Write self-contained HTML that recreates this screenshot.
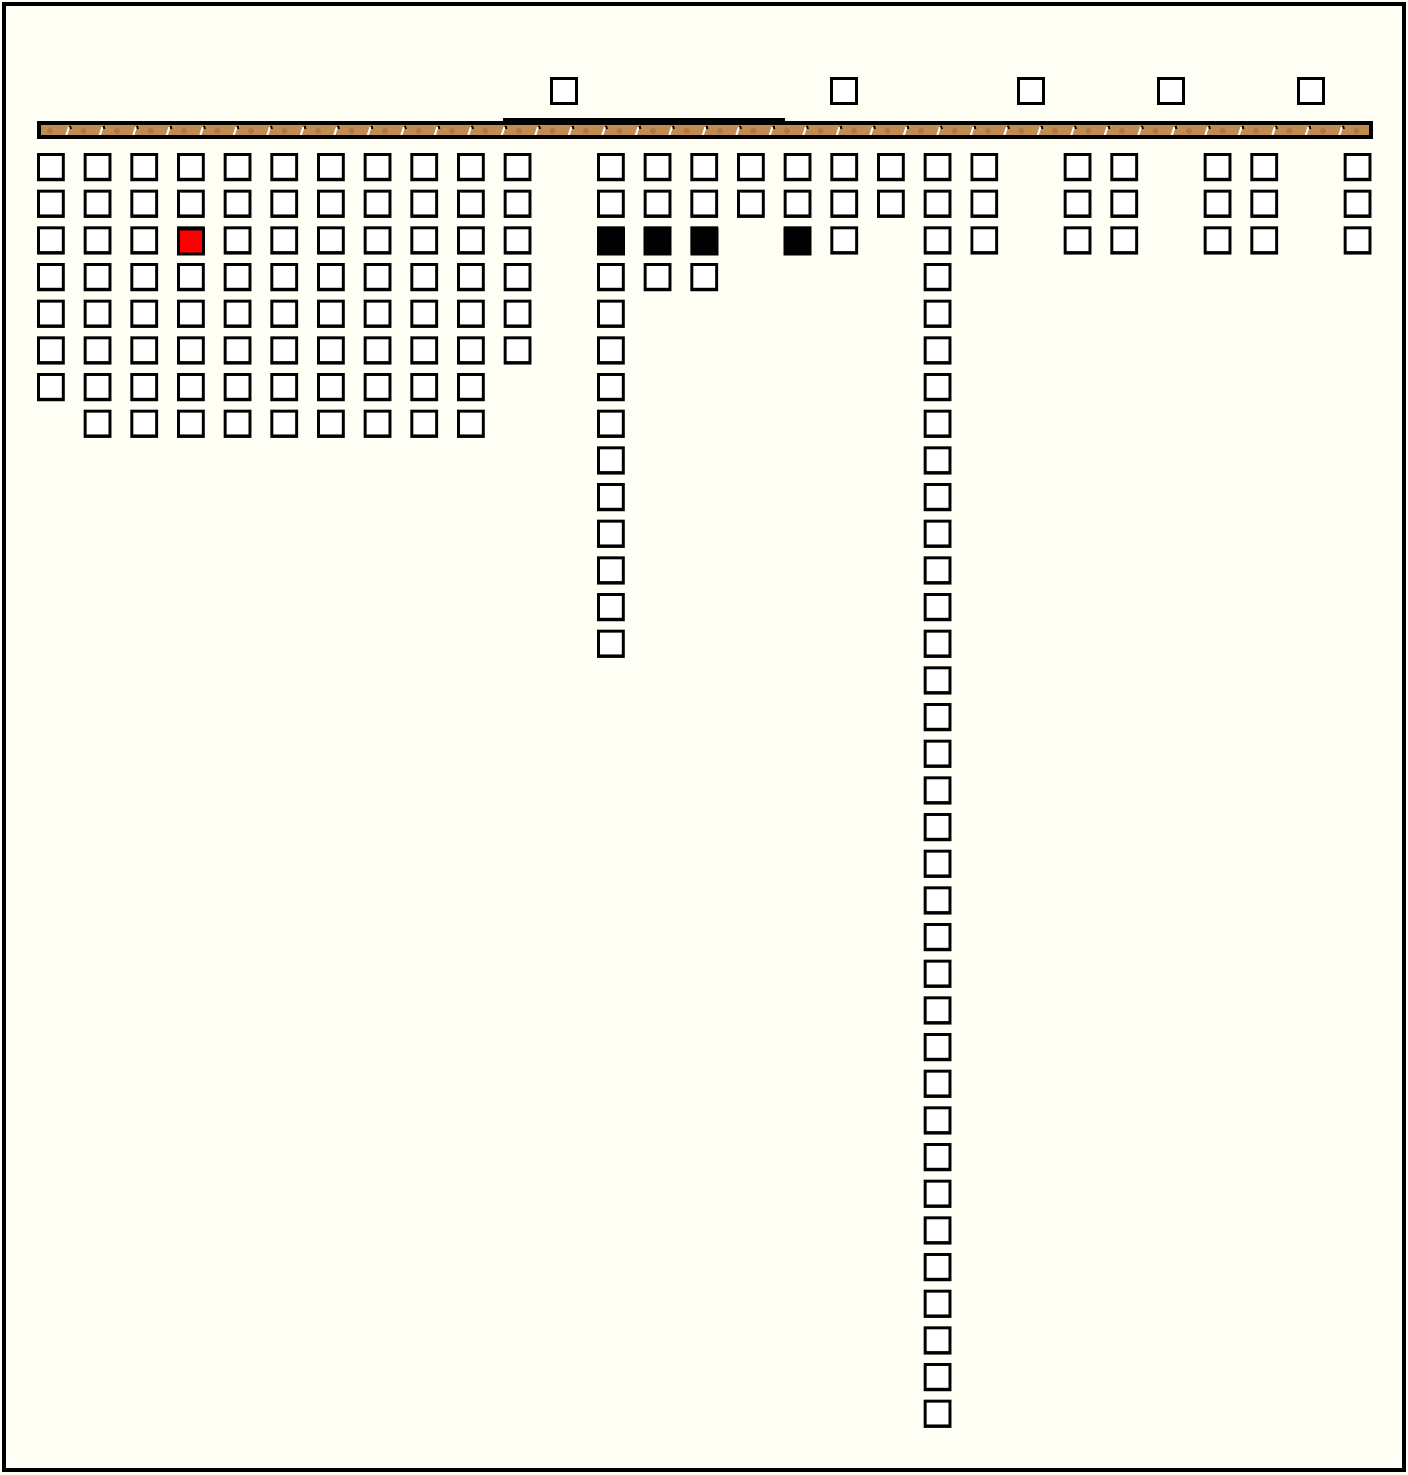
<!DOCTYPE html>
<html><head><meta charset="utf-8"><style>html,body{margin:0;padding:0;background:#fffff5}svg{display:block}</style></head>
<body>
<svg width="1408" height="1475" viewBox="0 0 1408 1475" xmlns="http://www.w3.org/2000/svg" shape-rendering="crispEdges">
<defs>
<pattern id="g" patternUnits="userSpaceOnUse" x="37" y="153" width="46.6667" height="36.6667">
<rect x="0" y="0" width="46.6667" height="36.6667" fill="#fffff5"/>
<rect x="1.5" y="1.5" width="25" height="25" fill="#fff" stroke="#000" stroke-width="3"/>
</pattern>
<pattern id="bar" patternUnits="userSpaceOnUse" x="40" y="124" width="33.5" height="12">
<rect width="33.5" height="12" fill="#c08c50"/>
<circle cx="10" cy="7" r="3" fill="#a86a3c" opacity="0.6"/>
<path d="M29 3 L26 12" stroke="#fff" stroke-width="2"/>
<path d="M30 2 L31 5" stroke="#000" stroke-width="2"/>
</pattern>
</defs>
<rect x="0" y="0" width="1408" height="1475" fill="#fffff5"/>
<rect x="4" y="4" width="1400" height="1466" fill="none" stroke="#000" stroke-width="4"/>
<rect x="37" y="121" width="1336" height="18" fill="#000"/>
<rect x="503" y="118" width="282" height="5" fill="#000"/>
<rect x="41" y="125" width="1328" height="10" fill="url(#bar)"/>
<g fill="#fff" stroke="#000" stroke-width="3">
<rect x="551.5" y="78.5" width="25" height="25"/>
<rect x="831.5" y="78.5" width="25" height="25"/>
<rect x="1018.5" y="78.5" width="25" height="25"/>
<rect x="1158.5" y="78.5" width="25" height="25"/>
<rect x="1298.5" y="78.5" width="25" height="25"/>
</g>
<g fill="url(#g)">
<rect x="37" y="153" width="30" height="249"/>
<rect x="83.667" y="153" width="403.333" height="285"/>
<rect x="503.667" y="153" width="30" height="212"/>
<rect x="597" y="153" width="30" height="505"/>
<rect x="643.667" y="153" width="76.667" height="139"/>
<rect x="737" y="153" width="30" height="66"/>
<rect x="783.667" y="153" width="76.667" height="102"/>
<rect x="877" y="153" width="30" height="66"/>
<rect x="923.667" y="153" width="30" height="1276"/>
<rect x="970.333" y="153" width="30" height="102"/>
<rect x="1063.667" y="153" width="76.667" height="102"/>
<rect x="1203.667" y="153" width="76.667" height="102"/>
<rect x="1343.667" y="153" width="30" height="102"/>
</g>
<rect x="178.5" y="228.8" width="25" height="25" fill="#f00" stroke="#000" stroke-width="3"/>
<g fill="#000" stroke="#000" stroke-width="3">
<rect x="598.5" y="228.8" width="25" height="25"/>
<rect x="645.2" y="228.8" width="25" height="25"/>
<rect x="691.8" y="228.8" width="25" height="25"/>
<rect x="785.2" y="228.8" width="25" height="25"/>
</g>
</svg>
</body></html>
